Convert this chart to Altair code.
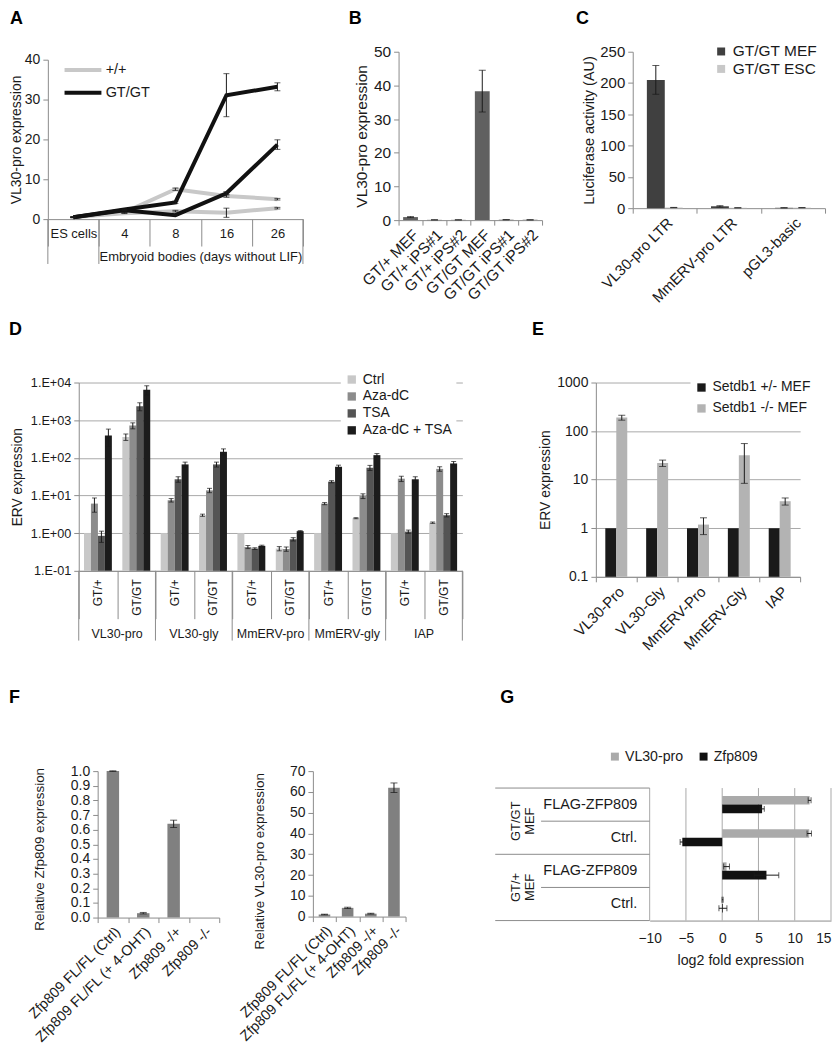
import altair as alt
import pandas as pd

FONT = "Liberation Sans"
INK = "#1a1a1a"
AXC = "#8c8c8c"
GRID = "#a9a9a9"

# ---------------- Panel A data ----------------
a_stages = ["ES cells", "4", "8", "16", "26"]
a_group_label = ["Embryoid bodies (days without LIF)"]
a_genos = ["+/+", "GT/GT"]
a_wt1 = [0.5, 1.7, 7.5, 5.8, 5.0]
a_wt1_err = [0.1, 0.1, 0.3, 0.3, 0.2]
a_wt2 = [0.5, 1.5, 2.0, 1.6, 2.75]
a_wt2_err = [0.1, 0.1, 0.2, 1.15, 0.2]
a_gt1 = [0.45, 2.4, 4.2, 31.1, 33.2]
a_gt1_err = [0.1, 0.1, 0.3, 5.4, 1.0]
a_gt2 = [0.45, 2.2, 1.0, 6.5, 18.7]
a_gt2_err = [0.1, 0.1, 0.1, 0.4, 1.2]

# ---------------- Panel B data ----------------
b_cats = ["GT/+ MEF", "GT/+ iPS#1", "GT/+ iPS#2", "GT/GT MEF", "GT/GT iPS#1", "GT/GT iPS#2"]
b_vals = [0.9, 0.08, 0.08, 38.3, 0.12, 0.08]
b_err = [0.15, 0.02, 0.02, 6.2, 0.03, 0.02]

# ---------------- Panel C data ----------------
c_cats = ["VL30-pro LTR", "MmERV-pro LTR", "pGL3-basic"]
c_series = ["GT/GT MEF", "GT/GT ESC"]
c_mef = [205.0, 3.0, 0.6]
c_mef_err = [23.0, 1.0, 0.2]
c_esc = [1.0, 0.6, 0.8]
c_esc_err = [0.2, 0.1, 0.1]

# ---------------- Panel D data ----------------
d_ervs = ["VL30-pro", "VL30-gly", "MmERV-pro", "MmERV-gly", "IAP"]
d_genos = ["GT/+", "GT/GT"]
d_treats = ["Ctrl", "Aza-dC", "TSA", "Aza-dC + TSA"]
d_floor = 0.1
# order: VL30-pro GT/+, VL30-pro GT/GT, VL30-gly GT/+, ... IAP GT/GT
d_ctrl = [1.0, 360, 1.0, 3.0, 1.0, 0.39, 1.0, 2.5, 1.0, 1.9]
d_ctrl_err = [0, 70, 0, 0.2, 0, 0.05, 0, 0.08, 0, 0.08]
d_aza = [6.1, 720, 7.5, 13.7, 0.43, 0.38, 6.1, 9.7, 28, 51]
d_aza_err = [2.5, 130, 0.8, 1.8, 0.04, 0.05, 0.4, 1.4, 4.5, 7]
d_tsa = [0.85, 2340, 27, 67, 0.39, 0.69, 23.3, 54.6, 1.1, 3.0]
d_tsa_err = [0.28, 560, 4.5, 10, 0.02, 0.07, 1.5, 8.5, 0.11, 0.3]
d_both = [390, 6400, 67, 145, 0.46, 1.13, 58, 118, 27, 71]
d_both_err = [190, 1800, 10, 28, 0.02, 0.04, 6, 12, 4.5, 9]

# ---------------- Panel E data ----------------
e_cats = ["VL30-Pro", "VL30-Gly", "MmERV-Pro", "MmERV-Gly", "IAP"]
e_series = ["Setdb1 +/- MEF", "Setdb1 -/- MEF"]
e_het = [1.0, 1.0, 1.0, 1.0, 1.0]
e_het_err = [0, 0, 0, 0, 0]
e_ko = [190, 22, 1.19, 31.9, 3.6]
e_ko_err = [22, 3.3, 0.45, 23.5, 0.6]

# ---------------- Panel F data ----------------
f_cats = ["Zfp809 FL/FL (Ctrl)", "Zfp809 FL/FL (+ 4-OHT)", "Zfp809 -/+", "Zfp809 -/-"]
f1_vals = [1.0, 0.03, 0.64, 0.0]
f1_err = [0.002, 0.005, 0.025, 0.0]
f2_vals = [1.0, 4.2, 1.4, 62.0]
f2_err = [0.15, 0.3, 0.2, 2.3]

# ---------------- Panel G data ----------------
g_group_codes = ["GT/GT", "GT/+"]
g_group_text = ["GT/GT\nMEF", "GT/+\nMEF"]
g_row_labels = ["FLAG-ZFP809", "Ctrl."]
g_series = ["VL30-pro", "Zfp809"]
g_ticks = [-10, -5, 0, 5, 10, 15]
g_vl30 = [12.05, 12.0, 0.6, 0.05]
g_vl30_err = [0.2, 0.3, 0.4, 0.08]
g_zfp = [5.5, -5.5, 6.1, 0.1]
g_zfp_err = [0.3, 0.3, 1.7, 0.55]


# ---------------- helpers ----------------
def lohi(df):
    df["lo"] = df["v"] - df["e"]
    df["hi"] = df["v"] + df["e"]
    return df


def letter(t, x, y):
    return alt.Chart(pd.DataFrame({"t": [t]})).mark_text(
        fontSize=18, fontWeight="bold", font=FONT, color="#000000", align="left",
        baseline="top").encode(x=alt.value(x), y=alt.value(y), text="t:N")


def spacer(w, h=1):
    return alt.Chart(pd.DataFrame({"s": [0]})).mark_rect(opacity=0).encode(
        x=alt.value(0), x2=alt.value(w), y=alt.value(0), y2=alt.value(h)).properties(
        width=w, height=h)


def nom_x(field, sort, axis, bp=None):
    kw = {} if bp is None else {"bandPosition": bp}
    return alt.X(f"{field}:N", sort=sort,
                 scale=alt.Scale(type="band", paddingInner=0, paddingOuter=0),
                 axis=axis, **kw)


def verr(df, xenc, yfn, extra=None, cap=6):
    extra = extra or {}
    d = df[df["e"] > 0]
    rule = alt.Chart(d).mark_rule(color=INK, strokeWidth=1).encode(
        x=xenc, y=yfn("lo"), y2=alt.Y2("hi:Q"), **extra)
    caps = alt.Chart(d).transform_fold(["lo", "hi"], as_=["k", "cap"]).mark_tick(
        color=INK, thickness=1, size=cap).encode(x=xenc, y=yfn("cap"), **extra)
    return [rule, caps]


def herr(df, yenc, xfn, extra=None, cap=6):
    extra = extra or {}
    d = df[df["e"] > 0]
    rule = alt.Chart(d).mark_rule(color=INK, strokeWidth=1).encode(
        y=yenc, x=xfn("lo"), x2=alt.X2("hi:Q"), **extra)
    caps = alt.Chart(d).transform_fold(["lo", "hi"], as_=["k", "cap"]).mark_tick(
        color=INK, thickness=1, size=cap).encode(y=yenc, x=xfn("cap"), **extra)
    return [rule, caps]


def indep(c):
    return c.resolve_scale(x="independent", y="independent", color="independent",
                           xOffset="independent", yOffset="independent").resolve_legend(
        color="independent").resolve_axis(x="independent", y="independent")


# ================= Panel A =================
A_W, A_H, A_TOP = 256, 160, 8
a_rows = []
for rep, geno, vals, errs in (("wt1", a_genos[0], a_wt1, a_wt1_err),
                              ("wt2", a_genos[0], a_wt2, a_wt2_err),
                              ("gt1", a_genos[1], a_gt1, a_gt1_err),
                              ("gt2", a_genos[1], a_gt2, a_gt2_err)):
    for i, (s, v, e) in enumerate(zip(a_stages, vals, errs)):
        a_rows.append(dict(stage=s, idx=i, v=v, e=e, geno=geno, rep=rep))
a_df = lohi(pd.DataFrame(a_rows))
A_B = A_H + A_TOP  # bottom of plot in px

a_xaxis = alt.Axis(title=None, labelAngle=0, tickBand="extent", tickSize=27,
                   labelPadding=-19, labelFontSize=13)
a_yaxis = alt.Axis(values=[0, 10, 20, 30, 40], title="VL30-pro expression", grid=False,
                   tickSize=5, labelPadding=3, titlePadding=0.5, labelFontSize=14, titleFontSize=14)


def a_x(bp=None):
    return nom_x("stage", a_stages, a_xaxis, bp)


def a_y(f):
    return alt.Y(f"{f}:Q", scale=alt.Scale(domain=[0, 40], range=[A_B, A_TOP]), axis=a_yaxis)


a_color = alt.Color("geno:N", scale=alt.Scale(domain=a_genos, range=["#c8c8c8", "#111111"]),
                    legend=alt.Legend(title=None, orient="none", legendX=28, legendY=A_TOP + 3,
                                      symbolType="M-3.7,0L3.7,0", symbolSize=100,
                                      symbolStrokeWidth=4, labelOffset=15.5, labelFontSize=14.5,
                                      rowPadding=6, padding=0))
a_lines = [alt.Chart(a_df).transform_filter(alt.datum.geno == g).mark_line(strokeWidth=4).encode(
    x=a_x(0.5), y=a_y("v"), color=a_color, detail="rep:N", order="idx:Q") for g in a_genos]
a_b0 = alt.Chart(pd.DataFrame({"stage": a_stages[:2]})).mark_rule(color=AXC).encode(
    x=a_x(0), y=alt.value(A_B), y2=alt.value(A_B + 45))
a_b1 = alt.Chart(pd.DataFrame({"stage": a_stages[-1:]})).mark_rule(color=AXC).encode(
    x=a_x(1), y=alt.value(A_B), y2=alt.value(A_B + 45))
a_txt = alt.Chart(pd.DataFrame({"stage": [a_stages[2]], "t": a_group_label})).mark_text(
    fontSize=13, color=INK).encode(x=a_x(1), y=alt.value(A_B + 38), text="t:N")
A = alt.layer(a_b0, a_b1, a_txt, *a_lines, *verr(a_df, a_x(0.5), a_y, cap=6),
              letter("A", -38, -42)).properties(width=A_W, height=A_B)

# ================= Panel B =================
B_W, B_H = 144, 169
b_df = lohi(pd.DataFrame({"cat": b_cats, "v": b_vals, "e": b_err}))
b_xaxis = alt.Axis(title=None, labelAngle=315, tickBand="extent", tickSize=5, labelPadding=2,
                   labelFontSize=15.5)
b_yaxis = alt.Axis(values=[0, 10, 20, 30, 40, 50], title="VL30-pro expression", grid=False,
                   tickSize=5, labelPadding=3, titlePadding=4, labelFontSize=15.5, titleFontSize=15.5)


def b_y(f):
    return alt.Y(f"{f}:Q", scale=alt.Scale(domain=[0, 50]), axis=b_yaxis)


b_bars = alt.Chart(b_df).mark_bar(color="#606060", width=alt.RelativeBandSize(0.62)).encode(
    x=nom_x("cat", b_cats, b_xaxis), y=b_y("v"))
B = alt.layer(b_bars, *verr(b_df, nom_x("cat", b_cats, b_xaxis, 0.5), b_y, cap=7),
              letter("B", -50, -42)).properties(width=B_W, height=B_H)

# ================= Panel C =================
C_W, C_H = 193, 157
c_rows = []
for s, vals, errs in ((c_series[0], c_mef, c_mef_err), (c_series[1], c_esc, c_esc_err)):
    for c, v, e in zip(c_cats, vals, errs):
        c_rows.append(dict(cat=c, series=s, v=v, e=e))
c_df = lohi(pd.DataFrame(c_rows))
c_xaxis = alt.Axis(title=None, labelAngle=315, tickBand="extent", tickSize=5, labelPadding=2,
                   labelFontSize=15)
c_yaxis = alt.Axis(values=[0, 50, 100, 150, 200, 250], title="Luciferase activity (AU)", grid=False,
                   tickSize=5, labelPadding=3, titlePadding=3, labelFontSize=15, titleFontSize=14.5)


def c_y(f):
    return alt.Y(f"{f}:Q", scale=alt.Scale(domain=[0, 250]), axis=c_yaxis)


c_off = alt.XOffset("series:N", sort=c_series, scale=alt.Scale(paddingInner=0, paddingOuter=0.79))
c_color = alt.Color("series:N", scale=alt.Scale(domain=c_series, range=["#404040", "#c8c8c8"]),
                    legend=alt.Legend(title=None, orient="none", legendX=81, legendY=-8,
                                      symbolType="square", symbolSize=64, labelFontSize=15.5,
                                      rowPadding=0.5, padding=0, labelOffset=4))
c_bars = alt.Chart(c_df).mark_bar().encode(x=nom_x("cat", c_cats, c_xaxis), xOffset=c_off,
                                           y=c_y("v"), color=c_color)
C = alt.layer(c_bars, *verr(c_df, nom_x("cat", c_cats, c_xaxis), c_y, extra={"xOffset": c_off},
                            cap=7), letter("C", -57, -42)).properties(width=C_W, height=C_H)

# ================= Panel D =================
D_W, D_H = 385, 189
d_keys = [f"{e}|{g}" for e in d_ervs for g in d_genos]
d_rows = []
for t, vals, errs in ((d_treats[0], d_ctrl, d_ctrl_err), (d_treats[1], d_aza, d_aza_err),
                      (d_treats[2], d_tsa, d_tsa_err), (d_treats[3], d_both, d_both_err)):
    for k, v, e in zip(d_keys, vals, errs):
        d_rows.append(dict(key=k, treat=t, v=v, e=e, base=d_floor))
d_df = lohi(pd.DataFrame(d_rows))
d_xaxis = alt.Axis(title=None, labelAngle=270, labelExpr="split(datum.label, '|')[1]",
                   tickBand="extent", tickSize=48, labelPadding=-40, labelFontSize=12)
d_yaxis = alt.Axis(values=[0.1, 1, 10, 100, 1000, 10000],
                   labelExpr="'1.E' + (datum.value >= 1 ? '+' : '-') + format(abs(round(log(datum.value) / LN10)), '02d')",
                   grid=True, tickSize=5, labelPadding=3, titlePadding=6, title="ERV expression",
                   labelFontSize=12.7, titleFontSize=13.8)


def d_x(bp=None):
    return nom_x("key", d_keys, d_xaxis, bp)


def d_y(f):
    return alt.Y(f"{f}:Q", scale=alt.Scale(type="log", domain=[0.1, 10000]), axis=d_yaxis)


d_off = alt.XOffset("treat:N", sort=d_treats, scale=alt.Scale(paddingInner=0, paddingOuter=0.75))
d_color = alt.Color("treat:N", scale=alt.Scale(domain=d_treats,
                                               range=["#c8c8c8", "#8c8c8c", "#545454", "#1c1c1c"]),
                    legend=alt.Legend(title=None, orient="none", legendX=263, legendY=-14,
                                      symbolType="square", symbolSize=70, labelFontSize=14,
                                      rowPadding=3, padding=4, fillColor="#ffffff", labelOffset=4))
d_bars = alt.Chart(d_df).mark_bar().encode(x=d_x(), xOffset=d_off, y=d_y("v"),
                                           y2=alt.Y2("base:Q"), color=d_color)
d_gkeys = [f"{e}|{d_genos[0]}" for e in d_ervs]
d_sep0 = alt.Chart(pd.DataFrame({"key": d_gkeys})).mark_rule(color=AXC).encode(
    x=d_x(0), y=alt.value(D_H), y2=alt.value(D_H + 70))
d_sep1 = alt.Chart(pd.DataFrame({"key": d_keys[-1:]})).mark_rule(color=AXC).encode(
    x=d_x(1), y=alt.value(D_H), y2=alt.value(D_H + 70))
d_glab = alt.Chart(pd.DataFrame({"key": d_gkeys, "t": d_ervs})).mark_text(
    fontSize=12.5, color=INK).encode(x=d_x(1), y=alt.value(D_H + 63), text="t:N")
D = alt.layer(d_bars, d_sep0, d_sep1, d_glab,
              *verr(d_df, d_x(), d_y, extra={"xOffset": d_off}, cap=5),
              letter("D", -70, -62)).properties(width=D_W, height=D_H)

# ================= Panel E =================
E_W, E_H = 205, 195
e_rows = []
for s, vals, errs in ((e_series[0], e_het, e_het_err), (e_series[1], e_ko, e_ko_err)):
    for c, v, e in zip(e_cats, vals, errs):
        e_rows.append(dict(cat=c, series=s, v=v, e=e, base=d_floor))
e_df = lohi(pd.DataFrame(e_rows))
e_xaxis = alt.Axis(title=None, labelAngle=315, tickBand="extent", tickSize=5, labelPadding=2,
                   labelFontSize=15)
e_yaxis = alt.Axis(values=[0.1, 1, 10, 100, 1000], labelExpr="format(datum.value, '~g')",
                   grid=True, tickSize=5, labelPadding=3, titlePadding=4, title="ERV expression",
                   labelFontSize=14, titleFontSize=14)


def e_y(f):
    return alt.Y(f"{f}:Q", scale=alt.Scale(type="log", domain=[0.1, 1000]), axis=e_yaxis)


e_off = alt.XOffset("series:N", sort=e_series, scale=alt.Scale(paddingInner=0, paddingOuter=0.86))
e_color = alt.Color("series:N", scale=alt.Scale(domain=e_series, range=["#1a1a1a", "#b3b3b3"]),
                    legend=alt.Legend(title=None, orient="none", legendX=95, legendY=-6,
                                      symbolType="square", symbolSize=70, labelFontSize=14,
                                      rowPadding=7, padding=4, fillColor="#ffffff", labelOffset=4))
e_bars = alt.Chart(e_df).mark_bar().encode(x=nom_x("cat", e_cats, e_xaxis), xOffset=e_off,
                                           y=e_y("v"), y2=alt.Y2("base:Q"), color=e_color)
E = alt.layer(e_bars, *verr(e_df, nom_x("cat", e_cats, e_xaxis), e_y, extra={"xOffset": e_off},
                            cap=7), letter("E", -64, -62)).properties(width=E_W, height=E_H)

# ================= Panel F =================
F1_W, F1_H = 122, 147
F2_W, F2_H = 93, 146
f_xaxis = alt.Axis(title=None, labelAngle=315, tickBand="extent", tickSize=5, labelPadding=2,
                   labelFontSize=14.5)
f1_df = lohi(pd.DataFrame({"cat": f_cats, "v": f1_vals, "e": f1_err}))
f2_df = lohi(pd.DataFrame({"cat": f_cats, "v": f2_vals, "e": f2_err}))
f1_yaxis = alt.Axis(values=[0.0, 0.1, 0.2, 0.3, 0.4, 0.5, 0.6, 0.7, 0.8, 0.9, 1.0], format=".1f",
                    title="Relative Zfp809 expression", grid=False, tickSize=5, labelPadding=3,
                    labelFontSize=14, titleFontSize=13.5, titleX=-51, titleY=78, titleAngle=270,
                    titleBaseline="bottom", titleAlign="center")
f2_yaxis = alt.Axis(values=[0, 10, 20, 30, 40, 50, 60, 70],
                    title="Relative VL30-pro  expression", grid=False, tickSize=5, labelPadding=3,
                    labelFontSize=14, titleFontSize=13.5, titleX=-47, titleY=90, titleAngle=270,
                    titleBaseline="bottom", titleAlign="center")


def f1_y(f):
    return alt.Y(f"{f}:Q", scale=alt.Scale(domain=[0, 1]), axis=f1_yaxis)


def f2_y(f):
    return alt.Y(f"{f}:Q", scale=alt.Scale(domain=[0, 70]), axis=f2_yaxis)


f1_bars = alt.Chart(f1_df).mark_bar(color="#808080", width=alt.RelativeBandSize(0.41)).encode(
    x=nom_x("cat", f_cats, f_xaxis), y=f1_y("v"))
F1 = alt.layer(f1_bars, *verr(f1_df, nom_x("cat", f_cats, f_xaxis, 0.5), f1_y, cap=7),
               letter("F", -89, -82)).properties(width=F1_W, height=F1_H)
f2_bars = alt.Chart(f2_df).mark_bar(color="#808080", width=alt.RelativeBandSize(0.5)).encode(
    x=nom_x("cat", f_cats, f_xaxis), y=f2_y("v"))
F2 = alt.layer(f2_bars, *verr(f2_df, nom_x("cat", f_cats, f_xaxis, 0.5), f2_y, cap=7)).properties(
    width=F2_W, height=F2_H)

# ================= Panel G =================
G_W, G_H, G_TOP = 182, 150, 17
g_keys = [f"{g}|{r}" for g in g_group_codes for r in g_row_labels]
g_rows = []
for s, vals, errs in ((g_series[0], g_vl30, g_vl30_err), (g_series[1], g_zfp, g_zfp_err)):
    for k, v, e in zip(g_keys, vals, errs):
        g_rows.append(dict(key=k, series=s, v=v, e=e))
g_df = lohi(pd.DataFrame(g_rows))
g_yaxis = alt.Axis(title=None, labelExpr="split(datum.label, '|')[1]", ticks=False, domain=False,
                   labelPadding=13, labelFontSize=14.5)
g_xaxis = alt.Axis(values=g_ticks, grid=False, ticks=False,
                   title="log2 fold expression", labelFontSize=13.8, titleFontSize=14.3,
                   labelPadding=11, titlePadding=8, labelFlush=False,
                   labelAlign={"condition": {"test": "datum.value >= 15", "value": "right"},
                               "value": "center"})


def g_y(bp=None):
    kw = {} if bp is None else {"bandPosition": bp}
    return alt.Y("key:N", sort=g_keys,
                 scale=alt.Scale(type="band", paddingInner=0, paddingOuter=0, range=[G_TOP, G_H]),
                 axis=g_yaxis, **kw)


def g_x(f):
    return alt.X(f"{f}:Q", scale=alt.Scale(domain=[-10, 15]), axis=g_xaxis)


g_off = alt.YOffset("series:N", sort=g_series, scale=alt.Scale(paddingInner=0, paddingOuter=0.94))
g_color = alt.Color("series:N", scale=alt.Scale(domain=g_series, range=["#aaaaaa", "#111111"]),
                    legend=alt.Legend(title=None, orient="none", direction="horizontal",
                                      legendX=-42, legendY=-22, symbolType="square", symbolSize=64,
                                      labelFontSize=14.2, columnPadding=13, padding=0, labelOffset=3))
g_grid = alt.Chart(pd.DataFrame({"gx": g_ticks, "key": [g_keys[0]] * len(g_ticks)})).mark_rule(
    color=GRID).encode(x=g_x("gx"), y=g_y(0), y2=alt.value(G_H))
g_bars = alt.Chart(g_df).mark_bar().encode(y=g_y(), yOffset=g_off, x=g_x("v"), color=g_color)
g_t_top = alt.Chart(pd.DataFrame({"key": g_keys[:1]})).mark_rule(color=AXC).encode(
    y=g_y(0), x=alt.value(-155), x2=alt.value(0))
g_t_grp = alt.Chart(pd.DataFrame({"key": [g_keys[1], g_keys[3]]})).mark_rule(color=AXC).encode(
    y=g_y(1), x=alt.value(-155), x2=alt.value(0))
g_t_sub = alt.Chart(pd.DataFrame({"key": [g_keys[0], g_keys[2]]})).mark_rule(color=AXC).encode(
    y=g_y(1), x=alt.value(-109), x2=alt.value(0))
g_glab = alt.Chart(pd.DataFrame({"key": [g_keys[0], g_keys[2]], "t": g_group_text})).mark_text(
    angle=270, lineBreak="\n", fontSize=13, lineHeight=14, color=INK, align="center",
    baseline="middle").encode(y=g_y(1), x=alt.value(-134), text="t:N")
G = alt.layer(g_grid, g_bars, g_t_top, g_t_grp, g_t_sub, g_glab,
              *herr(g_df, g_y(), g_x, extra={"yOffset": g_off}, cap=6),
              letter("G", -150, -82)).properties(width=G_W, height=G_H)

# ================= Layout =================
row1 = indep(alt.hconcat(spacer(1), A, spacer(44.5), B, spacer(32.5), C, spacing=0))
row2 = indep(alt.hconcat(spacer(1), D, spacer(68.5), E, spacing=0))
row3 = indep(alt.hconcat(spacer(1), F1, spacer(16), F2, spacer(87.5), G, spacing=0))
chart = indep(alt.vconcat(row1, spacer(1, 15), row2, spacer(1, 36), row3, spacing=0)).properties(
    padding=0)
chart = chart.configure(font=FONT).configure_view(stroke=None).configure_axis(
    labelFont=FONT, titleFont=FONT, labelColor=INK, titleColor=INK, domainColor=AXC,
    tickColor=AXC, gridColor=GRID, titleFontWeight="normal", labelOverlap=False, labelLimit=300
).configure_legend(labelFont=FONT, labelColor=INK).configure_title(font=FONT)

chart.save("out.html", embed_options={"renderer": "svg", "actions": False})
